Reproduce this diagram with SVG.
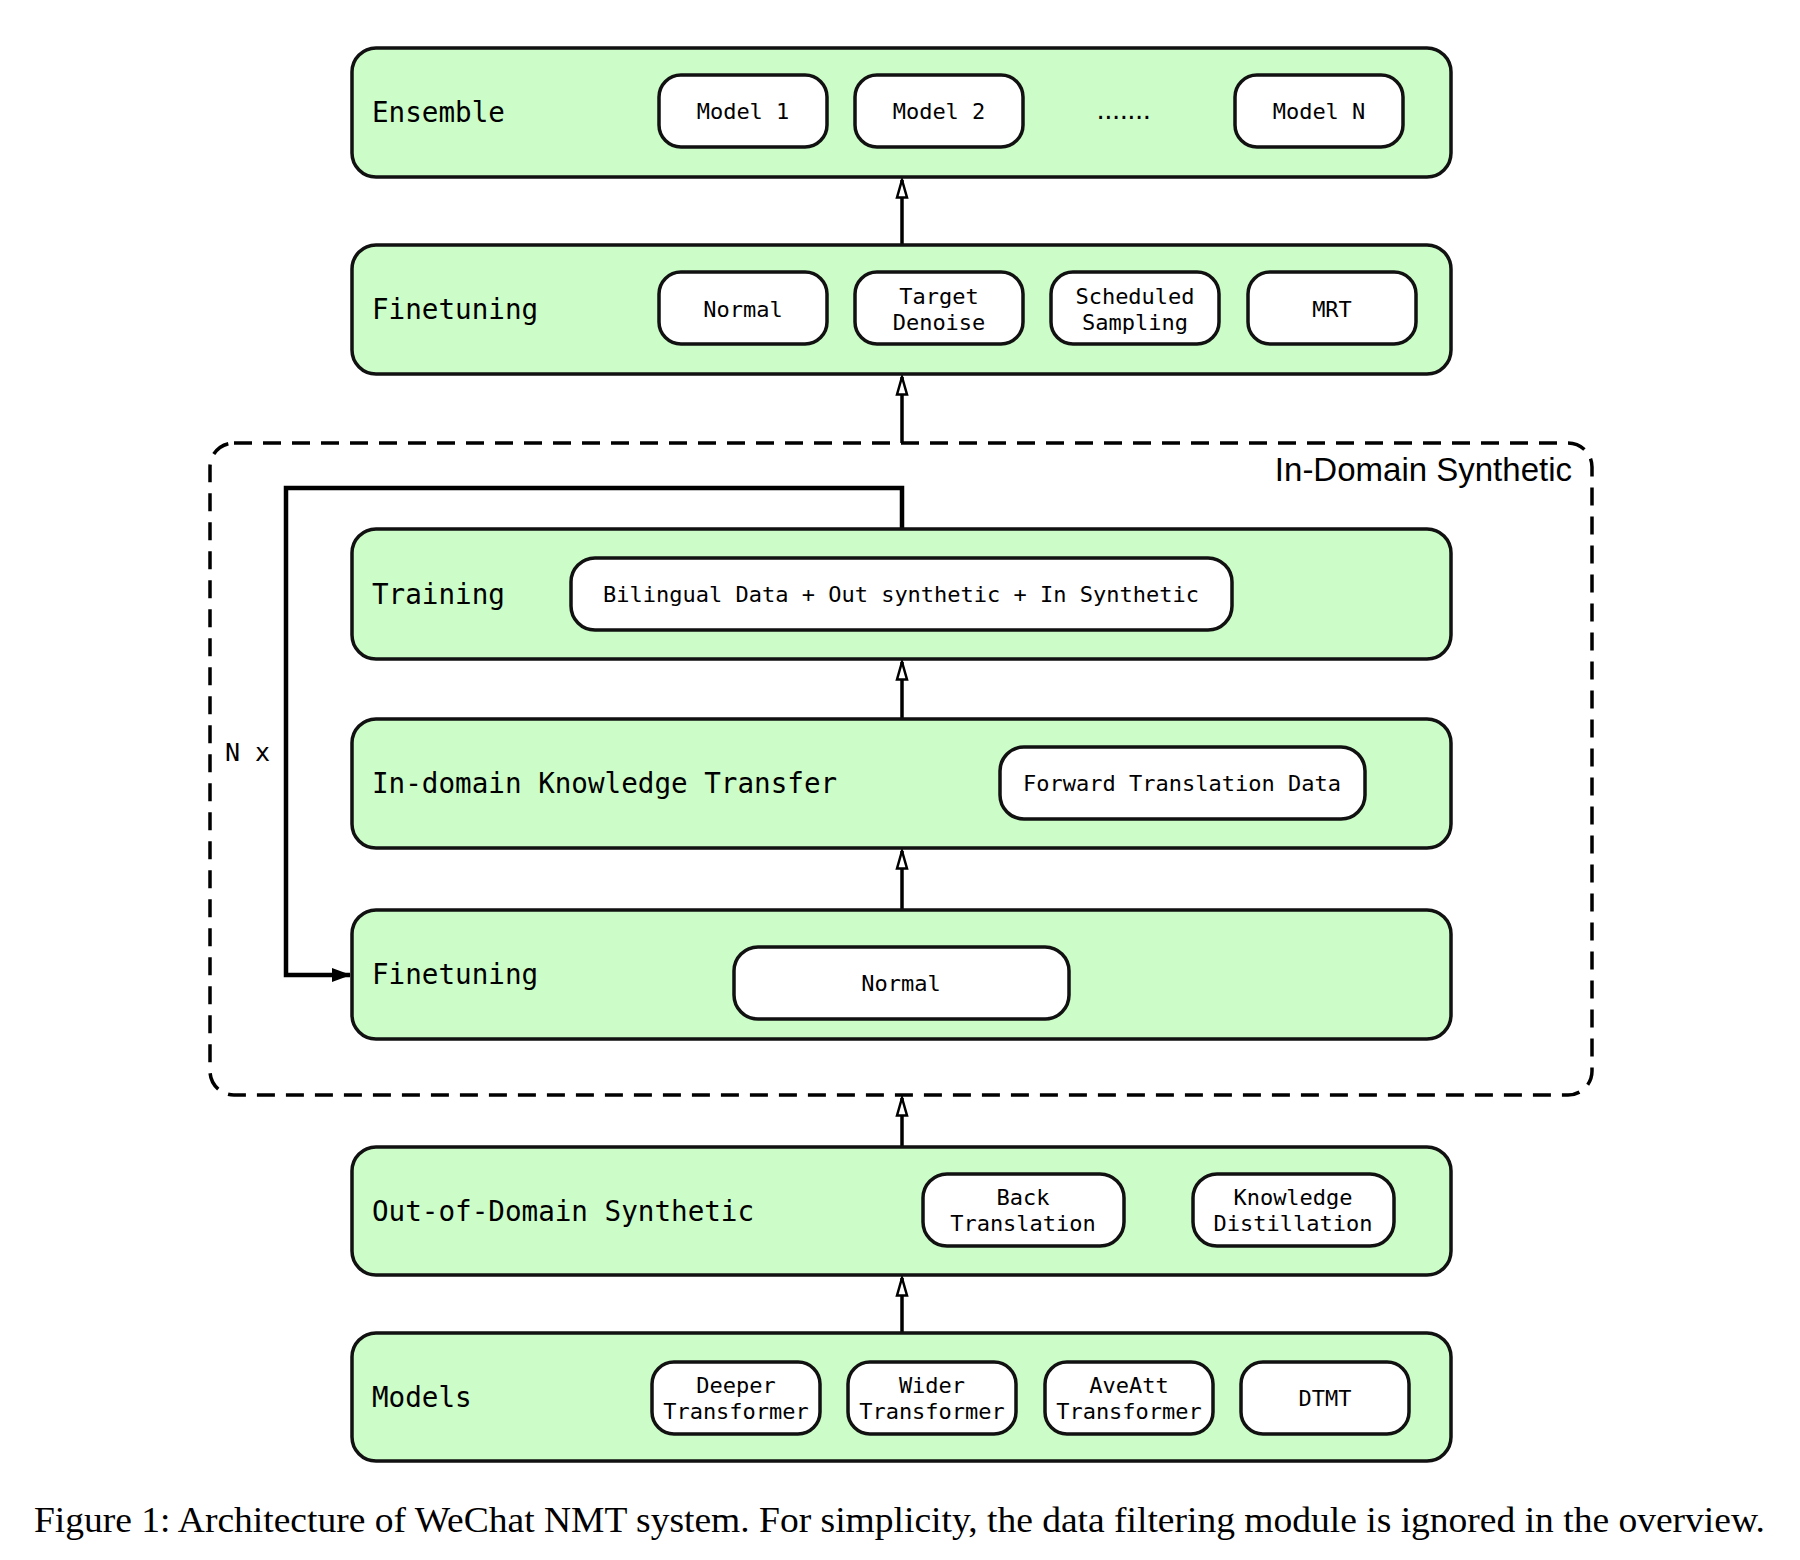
<svg xmlns="http://www.w3.org/2000/svg" width="1800" height="1560" viewBox="0 0 1800 1560">
<style>
.stage{fill:#ccfcc8;stroke:#111;stroke-width:3.5}
.item{fill:#fff;stroke:#111;stroke-width:3.5}
.lbl{font-family:"DejaVu Sans Mono",monospace;font-size:27.6px;fill:#000;dominant-baseline:central}
.it{font-family:"DejaVu Sans Mono",monospace;font-size:22px;fill:#000;text-anchor:middle;dominant-baseline:central}
.conn{stroke:#000;stroke-width:3.5;fill:none}
.loop{stroke:#000;stroke-width:4.5;fill:none}
</style>
<defs>
<marker id="hollow" markerWidth="22" markerHeight="14" refX="19" refY="7" orient="auto" markerUnits="userSpaceOnUse" viewBox="0 0 22 14">
<path d="M1.5,2 L19,7 L1.5,12 Z" fill="#fff" stroke="#000" stroke-width="2.5" stroke-linejoin="miter"/>
</marker>
<marker id="solid" markerWidth="20" markerHeight="16" refX="18" refY="8" orient="auto" markerUnits="userSpaceOnUse" viewBox="0 0 20 16">
<path d="M0,1 L19,8 L0,15 Z" fill="#000"/>
</marker>
</defs>
<rect width="1800" height="1560" fill="#fff"/>

<g id="in-domain-synthetic">
<rect x="210" y="443" width="1382" height="652" rx="24" fill="none" stroke="#000" stroke-width="3.5" stroke-dasharray="18 11"/>
<text x="1572" y="481" font-family="Liberation Sans, Arial, sans-serif" font-size="33" text-anchor="end" fill="#000">In-Domain Synthetic</text>
</g>

<g id="connectors">
<line class="conn" x1="902" y1="245" x2="902" y2="180" marker-end="url(#hollow)"/>
<line class="conn" x1="902" y1="443" x2="902" y2="377" marker-end="url(#hollow)"/>
<line class="conn" x1="902" y1="719" x2="902" y2="662" marker-end="url(#hollow)"/>
<line class="conn" x1="902" y1="910" x2="902" y2="851" marker-end="url(#hollow)"/>
<line class="conn" x1="902" y1="1147" x2="902" y2="1098" marker-end="url(#hollow)"/>
<line class="conn" x1="902" y1="1333" x2="902" y2="1278" marker-end="url(#hollow)"/>
<polyline class="loop" points="902,529 902,488 286,488 286,975 350,975" marker-end="url(#solid)"/>
<text x="225" y="752" font-family="DejaVu Sans Mono, monospace" font-size="25" fill="#000" dominant-baseline="central">N x</text>
</g>

<g id="ensemble">
<rect class="stage" x="352" y="48" width="1099" height="129" rx="24"/>
<text class="lbl" x="372" y="112">Ensemble</text>
<rect class="item" x="659" y="75" width="168" height="72" rx="22"/>
<text class="it" x="743" y="111">Model 1</text>
<rect class="item" x="855" y="75" width="168" height="72" rx="22"/>
<text class="it" x="939" y="111">Model 2</text>
<text class="it" x="1121" y="111" letter-spacing="-5.5">.......</text>
<rect class="item" x="1235" y="75" width="168" height="72" rx="22"/>
<text class="it" x="1319" y="111">Model N</text>
</g>

<g id="finetuning-top">
<rect class="stage" x="352" y="245" width="1099" height="129" rx="24"/>
<text class="lbl" x="372" y="309">Finetuning</text>
<rect class="item" x="659" y="272" width="168" height="72" rx="22"/>
<text class="it" x="743" y="309">Normal</text>
<rect class="item" x="855" y="272" width="168" height="72" rx="22"/>
<text class="it" x="939" y="296">Target</text>
<text class="it" x="939" y="322">Denoise</text>
<rect class="item" x="1051" y="272" width="168" height="72" rx="22"/>
<text class="it" x="1135" y="296">Scheduled</text>
<text class="it" x="1135" y="322">Sampling</text>
<rect class="item" x="1248" y="272" width="168" height="72" rx="22"/>
<text class="it" x="1332" y="309">MRT</text>
</g>

<g id="training">
<rect class="stage" x="352" y="529" width="1099" height="130" rx="24"/>
<text class="lbl" x="372" y="594">Training</text>
<rect class="item" x="571" y="558" width="661" height="72" rx="24"/>
<text class="it" x="901" y="594">Bilingual Data + Out synthetic + In Synthetic</text>
</g>

<g id="in-domain-knowledge-transfer">
<rect class="stage" x="352" y="719" width="1099" height="129" rx="24"/>
<text class="lbl" x="372" y="783">In-domain Knowledge Transfer</text>
<rect class="item" x="1000" y="747" width="365" height="72" rx="24"/>
<text class="it" x="1182" y="783">Forward Translation Data</text>
</g>

<g id="finetuning-inner">
<rect class="stage" x="352" y="910" width="1099" height="129" rx="24"/>
<text class="lbl" x="372" y="974">Finetuning</text>
<rect class="item" x="734" y="947" width="335" height="72" rx="24"/>
<text class="it" x="901" y="983">Normal</text>
</g>

<g id="out-of-domain-synthetic">
<rect class="stage" x="352" y="1147" width="1099" height="128" rx="24"/>
<text class="lbl" x="372" y="1211">Out-of-Domain Synthetic</text>
<rect class="item" x="923" y="1174" width="201" height="72" rx="24"/>
<text class="it" x="1023" y="1197">Back</text>
<text class="it" x="1023" y="1223">Translation</text>
<rect class="item" x="1193" y="1174" width="201" height="72" rx="24"/>
<text class="it" x="1293" y="1197">Knowledge</text>
<text class="it" x="1293" y="1223">Distillation</text>
</g>

<g id="models">
<rect class="stage" x="352" y="1333" width="1099" height="128" rx="24"/>
<text class="lbl" x="372" y="1397">Models</text>
<rect class="item" x="652" y="1362" width="168" height="72" rx="22"/>
<text class="it" x="736" y="1385">Deeper</text>
<text class="it" x="736" y="1411">Transformer</text>
<rect class="item" x="848" y="1362" width="168" height="72" rx="22"/>
<text class="it" x="932" y="1385">Wider</text>
<text class="it" x="932" y="1411">Transformer</text>
<rect class="item" x="1045" y="1362" width="168" height="72" rx="22"/>
<text class="it" x="1129" y="1385">AveAtt</text>
<text class="it" x="1129" y="1411">Transformer</text>
<rect class="item" x="1241" y="1362" width="168" height="72" rx="22"/>
<text class="it" x="1325" y="1398">DTMT</text>
</g>

<text x="34" y="1532" font-family="Liberation Serif, Times New Roman, serif" font-size="35" fill="#000" textLength="1731" lengthAdjust="spacingAndGlyphs">Figure 1: Architecture of WeChat NMT system. For simplicity, the data filtering module is ignored in the overview.</text>
</svg>
